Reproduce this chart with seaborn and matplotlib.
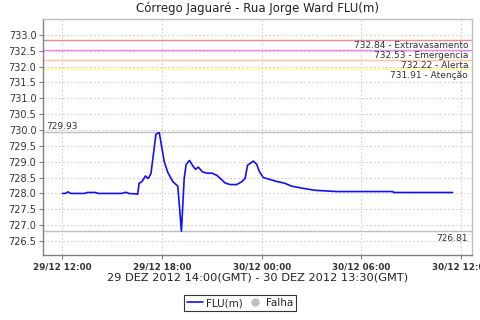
import matplotlib
matplotlib.use("Agg")
import matplotlib.pyplot as plt
import matplotlib.dates as mdates
import seaborn as sns
import pandas as pd
import numpy as np
from matplotlib.lines import Line2D

# ---- data ----
minutes = [0, 10, 20, 30, 80, 90, 120, 130, 215, 225, 233, 240, 270, 272, 277, 287,
           300, 310, 320, 338, 350, 368, 381, 399, 417, 430, 440, 447, 459, 472,
           481, 491, 506, 522, 540, 558, 572, 588, 606, 630, 648, 660, 669, 690,
           702, 711, 726, 750, 774, 804, 828, 870, 912, 990, 1194, 1196, 1410]
flu = [728.00, 728.00, 728.05, 728.00, 728.00, 728.03, 728.03, 728.00, 728.00, 728.03,
       728.03, 728.00, 727.98, 727.97, 728.32, 728.37, 728.55, 728.47, 728.63, 729.87,
       729.92, 729.00, 728.66, 728.37, 728.23, 726.81, 728.47, 728.91, 729.04, 728.86,
       728.76, 728.83, 728.68, 728.64, 728.64, 728.57, 728.46, 728.33, 728.28, 728.28,
       728.37, 728.47, 728.89, 729.02, 728.92, 728.70, 728.50, 728.44, 728.38, 728.32,
       728.23, 728.16, 728.10, 728.06, 728.06, 728.03, 728.03]
start = pd.Timestamp("2012-12-29 12:00")

thr_values = [732.84, 732.53, 732.22, 731.91]
thr_names = ["Extravasamento", "Emergencia", "Alerta", "Atenção"]
thr_colors = ["#f08a8a", "#ee82ee", "#ffc890", "#ffff90"]
max_val = 729.93
min_val = 726.81

yticks = [726.5, 727.0, 727.5, 728.0, 728.5, 729.0, 729.5, 730.0, 730.5,
          731.0, 731.5, 732.0, 732.5, 733.0]
xtick_times = ["2012-12-29 12:00", "2012-12-29 18:00", "2012-12-30 00:00",
               "2012-12-30 06:00", "2012-12-30 12:00"]
xtick_labels = ["29/12 12:00", "29/12 18:00", "30/12 00:00", "30/12 06:00", "30/12 12:00"]

df = pd.DataFrame({"time": start + pd.to_timedelta(minutes, unit="min"), "FLU(m)": flu})

sns.set_theme(style="white")
plt.rcParams['font.family'] = ['DejaVu Sans']

fig = plt.figure(figsize=(4.8, 3.2), dpi=100)
ax = fig.add_axes([43.3/480, 1-255.3/320, 429/480, 236/320])

sns.lineplot(data=df, x="time", y="FLU(m)", ax=ax, color="#1010ff", linewidth=1.2)

ax.set_ylim(726.05, 733.49)
ax.set_xlim(pd.Timestamp("2012-12-29 10:51"), pd.Timestamp("2012-12-30 12:41"))

ax.set_yticks(yticks)
ax.set_yticklabels([f"{v:.1f}" for v in yticks], fontsize=7, color="#333333")
ax.set_xticks([pd.Timestamp(t) for t in xtick_times])
ax.set_xticklabels(xtick_labels, fontsize=6.3, fontweight="bold", color="#333333")

ax.grid(True, color="#d0d0d0", linestyle=(0, (2, 2)), linewidth=0.7)
ax.set_axisbelow(True)

for v, c in zip(thr_values, thr_colors):
    ax.axhline(v, color=c, linewidth=1.0, zorder=1.5)
ax.axhline(max_val, color="#c0c0c0", linewidth=1.0, zorder=1.5)
ax.axhline(min_val, color="#c0c0c0", linewidth=1.0, zorder=1.5)

for v, n in zip(thr_values, thr_names):
    ax.text(0.99, v - 0.04, f"{v:.2f} - {n}", transform=ax.get_yaxis_transform(),
            ha="right", va="top", fontsize=6.5, color="#333333")
ax.text(0.007, max_val + 0.05, f"{max_val:.2f}", transform=ax.get_yaxis_transform(),
        ha="left", va="bottom", fontsize=6.5, color="#333333")
ax.text(0.99, min_val - 0.08, f"{min_val:.2f}", transform=ax.get_yaxis_transform(),
        ha="right", va="top", fontsize=6.5, color="#333333")

for s in ["left", "bottom"]:
    ax.spines[s].set_color("#808080")
    ax.spines[s].set_linewidth(1.0)
for s in ["top", "right"]:
    ax.spines[s].set_color("#c0c0c0")
    ax.spines[s].set_linewidth(1.0)
ax.tick_params(axis="both", which="major", length=3, width=0.8, color="#808080",
               bottom=True, left=True, pad=2)

ax.set_ylabel("")
ax.set_xlabel("29 DEZ 2012 14:00(GMT) - 30 DEZ 2012 13:30(GMT)", fontsize=8.2,
              color="#222222", labelpad=1)
ax.set_title("Córrego Jaguaré - Rua Jorge Ward FLU(m)", fontsize=8.5, color="#222222", pad=5)

handles = [Line2D([0], [0], color="#1010ff", linewidth=1.2),
           Line2D([0], [0], marker="o", color="none", markerfacecolor="#c0c0c0",
                  markeredgecolor="#c0c0c0", markersize=5)]
leg = fig.legend(handles, ["FLU(m)", "Falha"], loc="center", bbox_to_anchor=(240/480, 1-303/320),
                 ncol=2, fontsize=7.5, frameon=True, fancybox=False, handlelength=1.5,
                 handletextpad=0.3, columnspacing=0.4, borderpad=0.3, borderaxespad=0)
leg.get_frame().set_edgecolor("black")
leg.get_frame().set_linewidth(0.8)

fig.savefig("out.png", dpi=100, facecolor="white")
